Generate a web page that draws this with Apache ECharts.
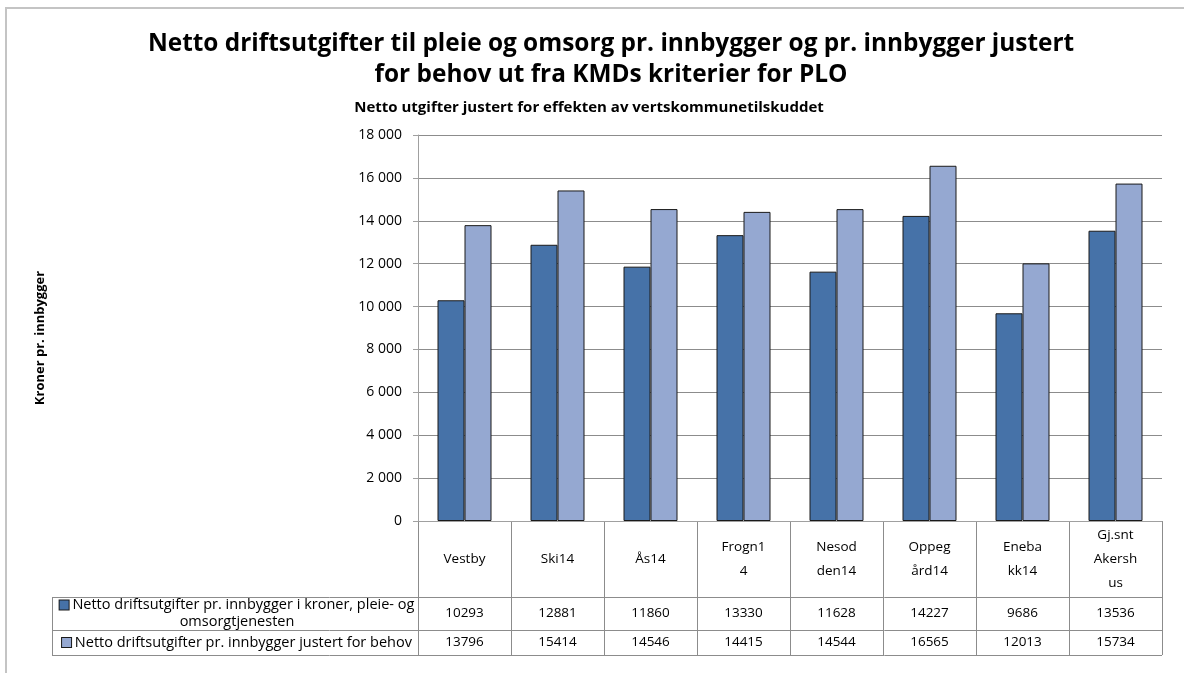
<!DOCTYPE html>
<html><head><meta charset="utf-8">
<script src="https://cdn.jsdelivr.net/npm/echarts@6/dist/echarts.min.js"></script>
<style>html,body{margin:0;padding:0;background:#fff}#c{width:1184px;height:673px}</style>
</head><body><div id="c"></div>
<script>
const categories = ["Vestby","Ski14","Ås14","Frogn14","Nesodden14","Oppegård14","Enebakk14","Gj.snt Akershus"];
const headerLabels = ["Vestby","Ski14","Ås14","Frogn1\n4","Nesod\nden14","Oppeg\nård14","Eneba\nkk14","Gj.snt\nAkersh\nus"];
const seriesNames = ["Netto driftsutgifter pr. innbygger i kroner, pleie- og omsorgtjenesten","Netto driftsutgifter pr. innbygger justert for behov"];
const legendLines = [["Netto driftsutgifter pr. innbygger i kroner, pleie- og","omsorgtjenesten"],["Netto driftsutgifter pr. innbygger justert for behov"]];
const netto = [10293,12881,11860,13330,11628,14227,9686,13536];
const justert = [13796,15414,14546,14415,14544,16565,12013,15734];
const yTicks = {min:0,max:18000,interval:2000};
const titleText = "Netto driftsutgifter til pleie og omsorg pr. innbygger og pr. innbygger justert\nfor behov ut fra KMDs kriterier for PLO";
const subtitleText = "Netto utgifter justert for effekten av vertskommunetilskuddet";
const yName = "Kroner pr. innbygger";

const colors = ["#4672A8","#95A8D1"];
const FONT = "Open Sans";
const chart = echarts.init(document.getElementById('c'));
const GRID = {left:418, right:22, top:135, bottom:152};
chart.setOption({
  animation:false,
  textStyle:{fontFamily:FONT},
  grid:{left:GRID.left,right:GRID.right,top:GRID.top,bottom:GRID.bottom,containLabel:false},
  xAxis:{type:'category',data:categories,axisLabel:{show:false},axisTick:{show:false},
    axisLine:{lineStyle:{color:'#a0a0a0',width:1}}},
  yAxis:{type:'value',min:yTicks.min,max:yTicks.max,interval:yTicks.interval,
    axisLine:{show:true,lineStyle:{color:'#a0a0a0'}},
    axisTick:{show:true,length:5,lineStyle:{color:'#a0a0a0'}},
    axisLabel:{color:'#000',fontSize:14,margin:16,fontFamily:FONT,
      formatter:v=>String(v).replace(/\B(?=(\d{3})+(?!\d))/g,' ')},
    splitLine:{lineStyle:{color:'#8c8c8c',width:1}}},
  series:[
    {name:seriesNames[0],type:'bar',data:netto,barWidth:27,barGap:'0%',
     itemStyle:{color:colors[0],borderColor:'#1a1a1a',borderWidth:1}},
    {name:seriesNames[1],type:'bar',data:justert,barWidth:27,barGap:'0%',
     itemStyle:{color:colors[1],borderColor:'#1a1a1a',borderWidth:1}}
  ]
});

const c0 = chart.convertToPixel({xAxisIndex:0}, categories[0]);
const c1 = chart.convertToPixel({xAxisIndex:0}, categories[1]);
const colW = c1 - c0;
const x0 = GRID.left, xEnd = x0 + colW*categories.length;
const yAxisBottom = chart.convertToPixel({yAxisIndex:0}, 0);
const rows = [yAxisBottom, yAxisBottom+76, yAxisBottom+109, yAxisBottom+134];
const tableLeft = 52;
const lc = '#8c8c8c';
const g = [];
g.push({type:'polyline',shape:{points:[[6,673],[6,8],[1184,8]]},style:{stroke:'#c4c4c4',lineWidth:2,fill:null}});
g.push({type:'text',x:611,y:29,style:{text:titleText,font:"bold 24.4px '"+FONT+"'",fill:'#000',textAlign:'center',lineHeight:31}});
g.push({type:'text',x:589,y:108,style:{text:subtitleText,font:"bold 15px '"+FONT+"'",fill:'#000',textAlign:'center',textVerticalAlign:'middle'}});
g.push({type:'text',x:40,y:338,rotation:Math.PI/2,style:{text:yName,font:"bold 13px '"+FONT+"'",fill:'#000',textAlign:'center',textVerticalAlign:'middle'}});
for(let i=0;i<=categories.length;i++){
  const x = Math.round(x0+colW*i)+0.5;
  g.push({type:'line',shape:{x1:x,y1:rows[0],x2:x,y2:rows[3]},style:{stroke:lc,lineWidth:1}});
}
g.push({type:'line',shape:{x1:tableLeft+0.5,y1:rows[1],x2:tableLeft+0.5,y2:rows[3]},style:{stroke:lc,lineWidth:1}});
for(let r=1;r<4;r++){
  const y = Math.round(rows[r])+0.5;
  g.push({type:'line',shape:{x1:tableLeft,y1:y,x2:xEnd,y2:y},style:{stroke:lc,lineWidth:1}});
}
headerLabels.forEach((t,i)=>{
  const cx = chart.convertToPixel({xAxisIndex:0}, categories[i]);
  g.push({type:'text',x:cx,y:(rows[0]+rows[1])/2,style:{text:t,font:"13.5px '"+FONT+"'",fill:'#000',textAlign:'center',textVerticalAlign:'middle',lineHeight:24}});
});
[netto,justert].forEach((arr,r)=>{
  const cy = (rows[r+1]+rows[r+2])/2;
  arr.forEach((v,i)=>{
    const cx = chart.convertToPixel({xAxisIndex:0}, categories[i]);
    g.push({type:'text',x:cx,y:cy,style:{text:String(v),font:"13.5px '"+FONT+"'",fill:'#000',textAlign:'center',textVerticalAlign:'middle'}});
  });
  const lines = legendLines[r].slice();
  lines[0] = '{k|} ' + lines[0];
  g.push({type:'text',x:(tableLeft+x0)/2+2,y:cy,style:{text:lines.join('\n'),font:"14.5px '"+FONT+"'",fill:'#000',
    textAlign:'center',textVerticalAlign:'middle',lineHeight:17,
    rich:{k:{width:9,height:9,backgroundColor:colors[r],borderColor:'#1a1a1a',borderWidth:1}}}});
});
chart.setOption({graphic:g});
</script></body></html>
